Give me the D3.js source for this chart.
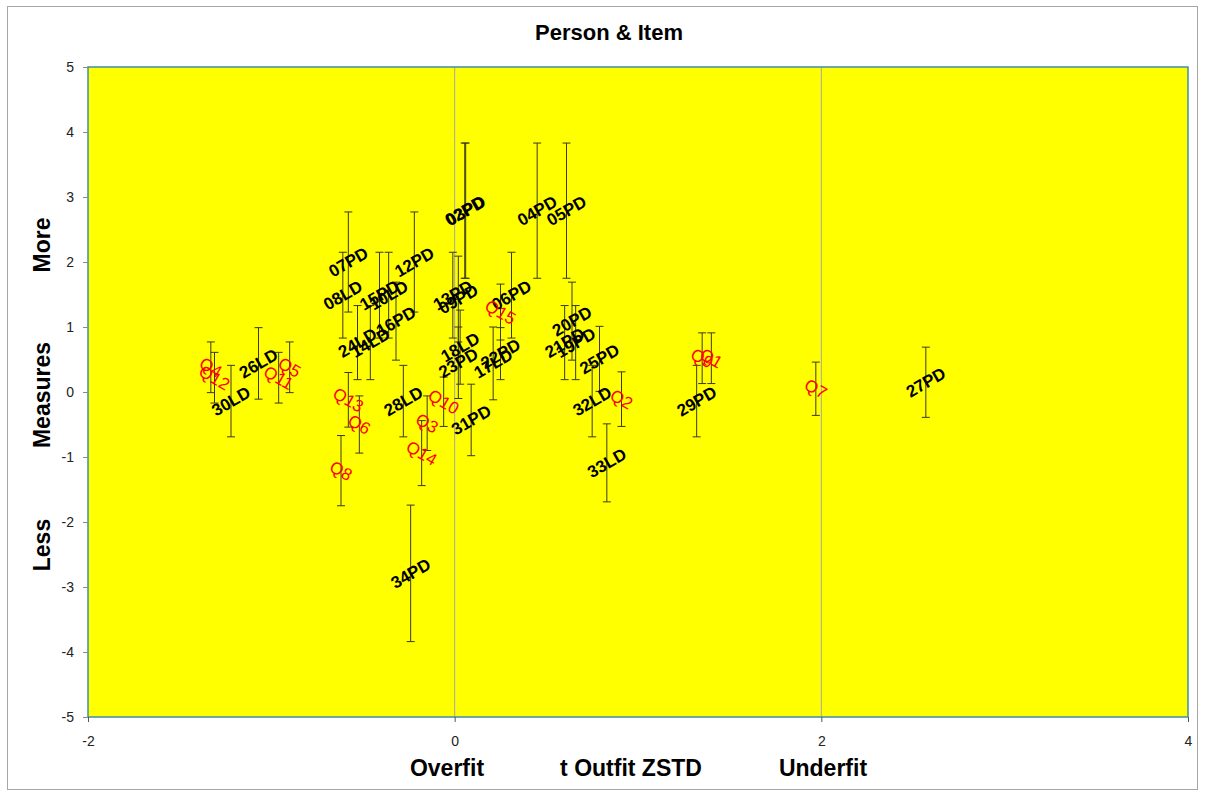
<html>
<head>
  <meta charset="utf-8">
  <script src="https://cdn.jsdelivr.net/npm/d3@7/dist/d3.min.js"></script>
  <style>
    body { margin: 0; background: #fff; }
    text { font-family: Arial, "Liberation Sans", sans-serif; }
  </style>
</head>
<body>
  <svg id="container" width="1205" height="796"></svg>
<script>
    // persons
    const personLabels = ['02PD','03PD','04PD','05PD','06PD','07PD','08LD','09PD','10LD','12PD','13PD',
      '14LD','15PD','16PD','17LD','18LD','19PD','20PD','21PD','22PD','23PD','24LD','25PD','26LD',
      '27PD','28LD','29PD','30LD','31PD','32LD','33LD','34PD'];
    const personX = [0.055,0.06,0.45,0.61,0.31,-0.58,-0.61,0.02,-0.36,-0.22,-0.01,
      -0.46,-0.41,-0.32,0.21,0.03,0.66,0.64,0.60,0.25,0.02,-0.53,0.79,-1.07,
      2.57,-0.28,1.32,-1.22,0.09,0.75,0.83,-0.24];
    const personY = [2.79,2.79,2.79,2.79,1.49,2.00,1.49,1.43,1.49,2.00,1.49,
      0.76,1.49,1.09,0.44,0.69,0.76,1.09,0.76,0.59,0.45,0.76,0.51,0.44,
      0.15,-0.14,-0.14,-0.14,-0.43,-0.14,-1.09,-2.79];
    const personErr = [1.04,1.04,1.04,1.04,0.66,0.77,0.66,0.66,0.66,0.77,0.66,
      0.57,0.66,0.60,0.56,0.57,0.57,0.60,0.57,0.40,0.55,0.57,0.50,0.55,
      0.54,0.55,0.55,0.55,0.55,0.55,0.60,1.05];

    // items
    const itemLabels = ['Q1','Q2','Q3','Q4','Q5','Q6','Q7','Q8','Q9','Q10','Q11','Q12','Q13','Q14','Q15'];
    const itemX = [1.40,0.91,-0.15,-1.33,-0.90,-0.52,1.97,-0.62,1.35,-0.06,-0.96,-1.31,-0.58,-0.18,0.25];
    const itemY = [0.52,-0.11,-0.48,0.38,0.38,-0.50,0.05,-1.21,0.52,-0.15,0.22,0.22,-0.12,-0.94,1.23];
    const itemErr = [0.39,0.42,0.42,0.39,0.39,0.44,0.41,0.54,0.39,0.38,0.39,0.39,0.42,0.50,0.43];

    const xTicks = [-2, 0, 2, 4];
    const yTicks = [-5,-4,-3,-2,-1,0,1,2,3,4,5];

    const svg = d3.select('#container');

    const plotLeft = 88, plotTop = 67, plotRight = 1188, plotBottom = 717;

    const x = d3.scaleLinear().domain([-2, 4]).range([plotLeft, plotRight]);
    const y = d3.scaleLinear().domain([-5, 5]).range([plotBottom, plotTop]);

    // outer frame
    svg.append('rect')
      .attr('x', 7.5).attr('y', 6.5).attr('width', 1190).attr('height', 783)
      .attr('fill', '#fff').attr('stroke', '#a6a6a6').attr('stroke-width', 1);

    // plot area
    svg.append('rect')
      .attr('x', plotLeft).attr('y', plotTop)
      .attr('width', plotRight - plotLeft).attr('height', plotBottom - plotTop)
      .attr('fill', '#ffff00');

    // vertical gridlines
    svg.append('g')
      .selectAll('line')
      .data([0, 2])
      .enter().append('line')
      .attr('x1', d => x(d)).attr('x2', d => x(d))
      .attr('y1', plotTop).attr('y2', plotBottom)
      .attr('stroke', '#a6a6a6').attr('stroke-width', 1);

    svg.append('rect')
      .attr('x', plotLeft).attr('y', plotTop)
      .attr('width', plotRight - plotLeft).attr('height', plotBottom - plotTop)
      .attr('fill', 'none').attr('stroke', '#3f8fa3').attr('stroke-width', 1.5);

    // axes
    const fmt = d => String(d).replace('\u2212', '-');
    const yAxis = svg.append('g')
      .attr('transform', `translate(${plotLeft},0)`)
      .call(d3.axisLeft(y).tickValues(yTicks).tickFormat(fmt).tickSize(5).tickSizeOuter(0).tickPadding(9));
    yAxis.select('.domain').remove();
    yAxis.selectAll('line').attr('stroke', '#888');
    yAxis.selectAll('text').attr('font-size', 14).attr('fill', '#222');

    const xAxis = svg.append('g')
      .attr('transform', `translate(0,${plotBottom})`)
      .call(d3.axisBottom(x).tickValues(xTicks).tickFormat(fmt).tickSize(5).tickSizeOuter(0).tickPadding(14));
    xAxis.select('.domain').remove();
    xAxis.selectAll('line').attr('stroke', '#555');
    xAxis.selectAll('text').attr('font-size', 14).attr('fill', '#222');

    // error bars
    function errorBars(xs, ys, es) {
      const g = svg.append('g').attr('stroke', '#3a3a1a').attr('stroke-width', 1);
      xs.forEach((xv, i) => {
        const cx = x(xv), y1 = y(ys[i] + es[i]), y2 = y(ys[i] - es[i]);
        g.append('line').attr('x1', cx).attr('x2', cx).attr('y1', y1).attr('y2', y2);
        g.append('line').attr('x1', cx - 4).attr('x2', cx + 4).attr('y1', y1).attr('y2', y1);
        g.append('line').attr('x1', cx - 4).attr('x2', cx + 4).attr('y1', y2).attr('y2', y2);
      });
    }
    errorBars(personX, personY, personErr);
    errorBars(itemX, itemY, itemErr);

    // labels
    svg.append('g')
      .selectAll('text')
      .data(personLabels)
      .enter().append('text')
      .attr('transform', (d, i) => `translate(${x(personX[i])},${y(personY[i])}) rotate(-30)`)
      .attr('text-anchor', 'middle')
      .attr('dy', '0.35em')
      .attr('font-size', 17)
      .attr('font-weight', 'bold')
      .attr('fill', '#000')
      .text(d => d);

    svg.append('g')
      .selectAll('text')
      .data(itemLabels)
      .enter().append('text')
      .attr('transform', (d, i) => `translate(${x(itemX[i])},${y(itemY[i])}) rotate(30)`)
      .attr('text-anchor', 'middle')
      .attr('dy', '0.35em')
      .attr('font-size', 17)
      .attr('fill', '#ff0000')
      .text(d => d);

    // titles
    svg.append('text')
      .attr('x', 609).attr('y', 40)
      .attr('text-anchor', 'middle')
      .attr('font-size', 22).attr('font-weight', 'bold')
      .text('Person & Item');

    const xLabels = [['Overfit', 447], ['t Outfit ZSTD', 631], ['Underfit', 823]];
    xLabels.forEach(d => {
      svg.append('text')
        .attr('x', d[1]).attr('y', 776)
        .attr('text-anchor', 'middle')
        .attr('font-size', 23).attr('font-weight', 'bold')
        .text(d[0]);
    });

    const yLabels = [['More', 245], ['Measures', 395], ['Less', 545]];
    yLabels.forEach(d => {
      svg.append('text')
        .attr('transform', `translate(50,${d[1]}) rotate(-90)`)
        .attr('text-anchor', 'middle')
        .attr('font-size', 23).attr('font-weight', 'bold')
        .text(d[0]);
    });
</script>
</body>
</html>
